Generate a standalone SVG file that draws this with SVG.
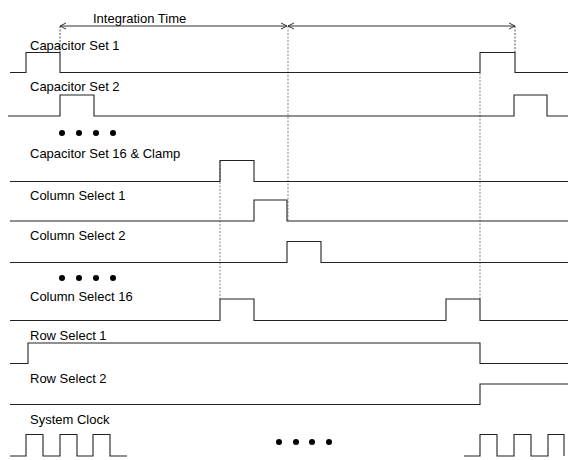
<svg xmlns="http://www.w3.org/2000/svg" width="569" height="460" viewBox="0 0 569 460">
<style>
text{font-family:"Liberation Sans",Arial,sans-serif;font-size:13px;fill:#000}
.sig{fill:none;stroke:#222;stroke-width:1.1}
.g1{fill:none;stroke:#555;stroke-width:1;stroke-dasharray:2,1.5}
.g2{fill:none;stroke:#999;stroke-width:1.2;stroke-dasharray:2,1.5}
.dim{fill:none;stroke:#333;stroke-width:1}
.dot{fill:#000}
</style>
<defs>
<marker id="ah" markerWidth="8" markerHeight="8" refX="7" refY="4" orient="auto-start-reverse" markerUnits="userSpaceOnUse">
<path d="M1,1 L7,4 L1,7" fill="none" stroke="#333" stroke-width="1"/>
</marker>
</defs>
<g id="connectors">
<line class="g1" x1="60" y1="26" x2="60" y2="52"/>
<line class="g1" x1="515" y1="26" x2="515" y2="52"/>
<line class="g2" x1="288" y1="26" x2="288" y2="221"/>
<line class="g2" x1="480" y1="73" x2="480" y2="299"/>
<line class="g2" x1="220" y1="161" x2="220" y2="299"/>
<line class="dim" x1="60" y1="26" x2="287" y2="26" marker-start="url(#ah)" marker-end="url(#ah)"/>
<line class="dim" x1="288" y1="26" x2="515" y2="26" marker-start="url(#ah)" marker-end="url(#ah)"/>
</g>
<g id="integration-time"><text x="93" y="23">Integration Time</text></g>
<g id="cap-set-1">
<text x="30" y="50">Capacitor Set 1</text>
<path class="sig" d="M10,72.5 H26 V52.5 H60 V72.5 H480 V52.5 H515 V72.5 H568"/>
</g>
<g id="cap-set-2">
<text x="30" y="91">Capacitor Set 2</text>
<path class="sig" d="M8,116 H60 V95 H94 V116 H514 V95 H547 V116 H568"/>
</g>
<g id="dots-1">
<circle class="dot" cx="62" cy="133" r="3"/><circle class="dot" cx="79" cy="133" r="3"/><circle class="dot" cx="96" cy="133" r="3"/><circle class="dot" cx="113" cy="133" r="3"/>
</g>
<g id="cap-set-16">
<text x="30" y="158">Capacitor Set 16 &amp; Clamp</text>
<path class="sig" d="M10,181.5 H220 V160.5 H254 V181.5 H568"/>
</g>
<g id="col-select-1">
<text x="30" y="200">Column Select 1</text>
<path class="sig" d="M10,221 H254 V200 H287 V221 H568"/>
</g>
<g id="col-select-2">
<text x="30" y="240">Column Select 2</text>
<path class="sig" d="M10,262.5 H287 V241.5 H321 V262.5 H568"/>
</g>
<g id="dots-2">
<circle class="dot" cx="62" cy="278" r="3"/><circle class="dot" cx="79" cy="278" r="3"/><circle class="dot" cx="96" cy="278" r="3"/><circle class="dot" cx="113" cy="278" r="3"/>
</g>
<g id="col-select-16">
<text x="30" y="301">Column Select 16</text>
<path class="sig" d="M10,320.5 H220 V299 H254 V320.5 H446 V299 H480 V320.5 H568"/>
</g>
<g id="row-select-1">
<text x="30" y="340">Row Select 1</text>
<path class="sig" d="M10,363.5 H28 V343 H480 V363.5 H568"/>
</g>
<g id="row-select-2">
<text x="30" y="383">Row Select 2</text>
<path class="sig" d="M10,404.5 H480 V384 H568"/>
</g>
<g id="system-clock">
<text x="30" y="424">System Clock</text>
<path class="sig" d="M10,456 H26 V434.5 H43 V456 H60 V434.5 H77 V456 H93 V434.5 H110 V456 H127"/>
<path class="sig" d="M464,456 H480 V434.5 H497 V456 H514 V434.5 H531 V456 H548 V434.5 H564 V456"/>
<circle class="dot" cx="279" cy="442" r="3"/><circle class="dot" cx="296" cy="442" r="3"/><circle class="dot" cx="312" cy="442" r="3"/><circle class="dot" cx="329" cy="442" r="3"/>
</g>
</svg>
